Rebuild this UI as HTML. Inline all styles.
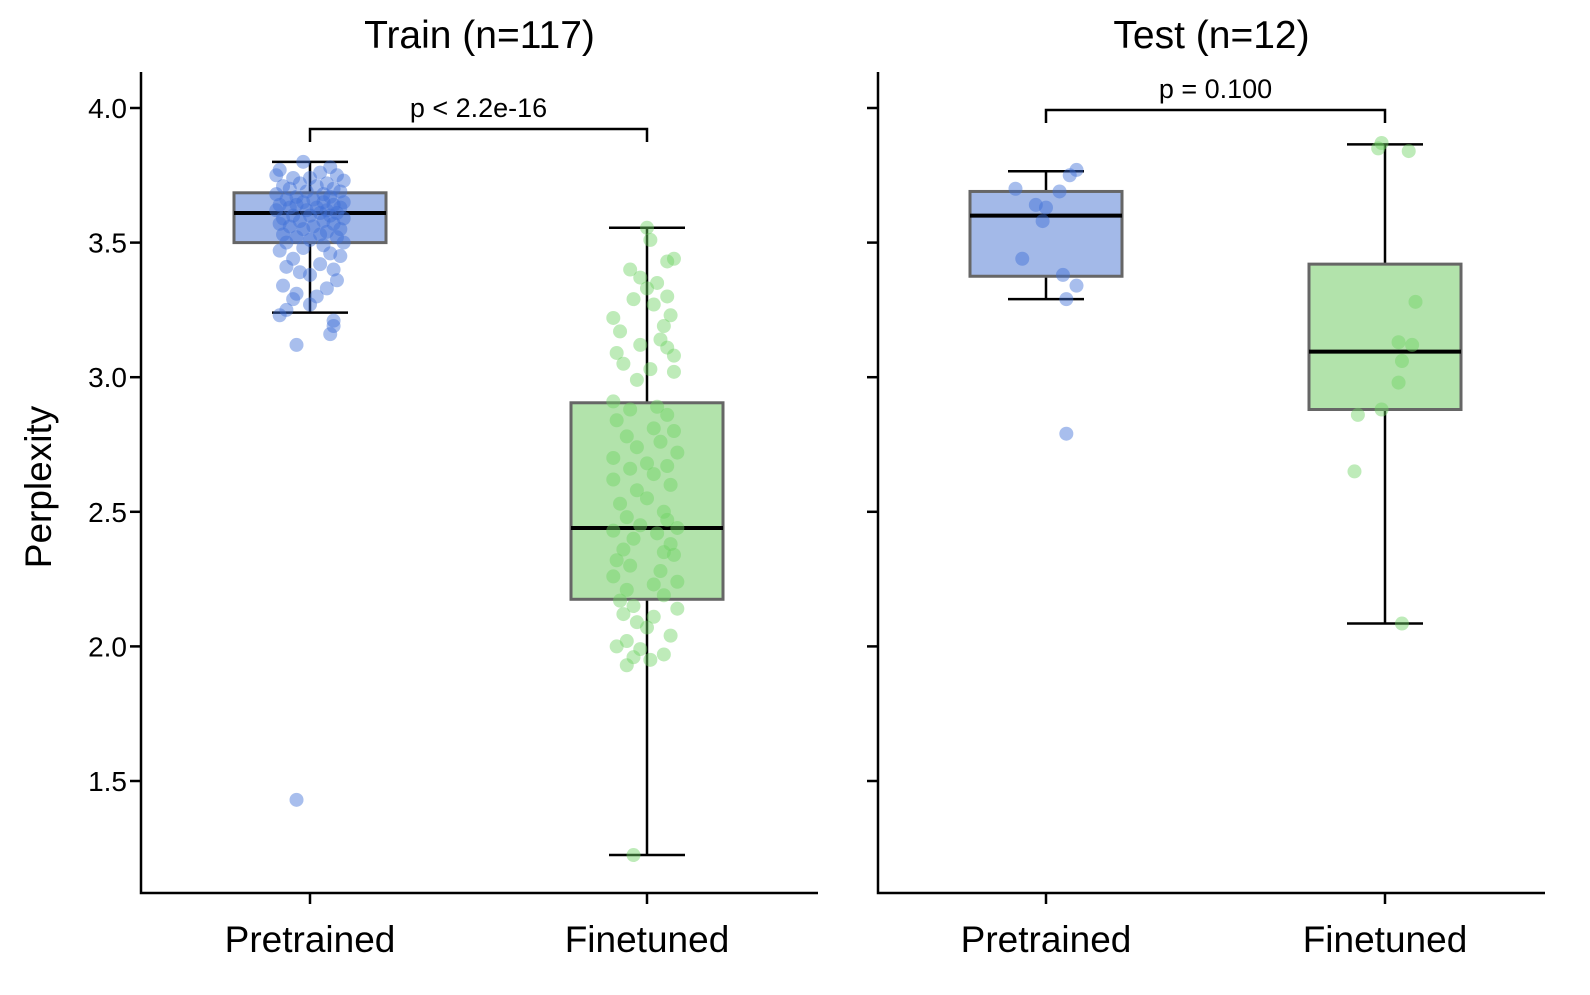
<!DOCTYPE html>
<html><head><meta charset="utf-8"><style>
html,body{margin:0;padding:0;background:#fff;}
svg text{font-family:"Liberation Sans",Arial,sans-serif;fill:#000;}
</style></head><body>
<svg id="chart" width="1590" height="990" viewBox="0 0 1590 990" xmlns="http://www.w3.org/2000/svg">
<g id="plot"></g>
</svg>
<script>
// ---- data ----
const panelTitles = ["Train (n=117)", "Test (n=12)"];
const categories = ["Pretrained", "Finetuned"];
const yTicks = [1.5, 2.0, 2.5, 3.0, 3.5, 4.0];
const yTickLabels = ["1.5", "2.0", "2.5", "3.0", "3.5", "4.0"];
const pLabels = ["p < 2.2e-16", "p = 0.100"];
// box stats [whiskerLow, q1, median, q3, whiskerHigh]
const trainPreStats = [3.24, 3.50, 3.61, 3.685, 3.80];
const trainFineStats = [1.225, 2.175, 2.44, 2.905, 3.555];
const testPreStats = [3.29, 3.375, 3.60, 3.69, 3.765];
const testFineStats = [2.085, 2.88, 3.095, 3.42, 3.865];
// points: values and jitter (fraction of category spacing)
const trainPreVals = [3.80,3.78,3.77,3.76,3.75,3.75,3.74,3.74,3.73,3.72,3.72,3.71,3.71,3.70,3.70,3.69,3.69,3.68,3.68,3.67,3.67,3.66,3.66,3.65,3.65,3.65,3.64,3.64,3.64,3.63,3.63,3.63,3.62,3.62,3.62,3.61,3.61,3.60,3.60,3.60,3.59,3.59,3.58,3.58,3.57,3.57,3.56,3.56,3.55,3.55,3.54,3.53,3.53,3.52,3.52,3.51,3.50,3.50,3.49,3.48,3.47,3.46,3.45,3.44,3.42,3.41,3.40,3.39,3.38,3.36,3.34,3.33,3.31,3.30,3.29,3.27,3.25,3.23,3.21,3.19,3.16,3.12,1.43];
const trainPreJit = [-0.02,0.06,-0.09,0.03,-0.1,0.08,0.0,-0.05,0.1,-0.03,0.05,-0.08,0.02,0.07,-0.06,-0.01,0.09,-0.1,0.04,-0.04,0.06,0.01,-0.07,0.1,-0.02,0.04,-0.09,0.07,-0.04,0.02,0.09,-0.06,0.05,-0.01,-0.1,0.08,0.03,-0.05,0.0,0.06,-0.08,0.1,-0.03,0.04,-0.09,0.07,0.01,-0.06,0.09,-0.02,0.05,-0.08,0.03,-0.04,0.08,0.0,-0.07,0.1,0.04,-0.02,-0.09,0.06,0.09,-0.05,0.03,-0.07,0.07,-0.03,0.0,0.08,-0.08,0.05,-0.04,0.02,-0.05,0.0,-0.07,-0.09,0.07,0.07,0.06,-0.04,-0.04];
const trainFineVals = [3.555,3.51,3.44,3.43,3.40,3.37,3.35,3.33,3.30,3.29,3.27,3.23,3.22,3.19,3.17,3.14,3.12,3.11,3.09,3.08,3.05,3.03,3.02,2.99,2.91,2.89,2.88,2.86,2.84,2.81,2.80,2.78,2.76,2.74,2.72,2.70,2.68,2.67,2.66,2.64,2.62,2.60,2.58,2.55,2.53,2.50,2.48,2.47,2.45,2.44,2.43,2.42,2.40,2.38,2.36,2.35,2.34,2.32,2.30,2.28,2.26,2.24,2.23,2.21,2.19,2.17,2.15,2.14,2.12,2.11,2.09,2.07,2.04,2.02,2.00,1.99,1.97,1.96,1.95,1.93,1.225];
const trainFineJit = [0.0,0.01,0.08,0.06,-0.05,-0.02,0.03,0.0,0.06,-0.04,0.02,0.07,-0.1,0.05,-0.08,0.04,-0.02,0.06,-0.09,0.08,-0.07,0.01,0.08,-0.03,-0.1,0.03,-0.05,0.06,-0.09,0.02,0.08,-0.06,0.04,-0.03,0.09,-0.1,0.0,0.06,-0.05,0.02,-0.1,0.07,-0.03,0.0,-0.08,0.05,-0.06,0.06,-0.02,0.09,-0.1,0.03,-0.04,0.07,-0.07,0.05,0.08,-0.09,-0.05,0.04,-0.1,0.09,0.02,-0.06,0.05,-0.08,-0.04,0.09,-0.07,0.02,-0.03,0.0,0.07,-0.06,-0.09,-0.02,0.05,-0.04,0.01,-0.06,-0.04];
const testPreVals = [3.70,3.64,3.63,3.58,3.69,3.75,3.77,3.44,3.38,3.34,3.29,2.79];
const testPreJit = [-0.09,-0.03,0.0,-0.01,0.04,0.07,0.09,-0.07,0.05,0.09,0.06,0.06];
const testFineVals = [3.85,3.87,3.84,3.28,3.13,3.12,3.06,2.98,2.88,2.86,2.65,2.085];
const testFineJit = [-0.02,-0.01,0.07,0.09,0.04,0.08,0.05,0.04,-0.01,-0.08,-0.09,0.05];

// ---- layout ----
const NS = "http://www.w3.org/2000/svg";
const g = document.getElementById("plot");
const panels = [
  {x0:141, x1:818, cx:[310,647], stats:[trainPreStats,trainFineStats], vals:[trainPreVals,trainFineVals], jit:[trainPreJit,trainFineJit], labels:true, by:129, name:"train"},
  {x0:878, x1:1545, cx:[1046,1385], stats:[testPreStats,testFineStats], vals:[testPreVals,testFineVals], jit:[testPreJit,testFineJit], labels:false, by:110, name:"test"}
];
const yTop = 72, yBot = 893;
function yScale(v){ return 108 + (4.0 - v) * 269.2; }
const boxFill = ["#a3b9e8","#b2e3ab"];
const ptFill = ["#3d6fd6","#6fd364"];
function el(tag, attrs, parent){ const e=document.createElementNS(NS,tag); for(const k in attrs) e.setAttribute(k,attrs[k]); (parent||g).appendChild(e); return e; }

panels.forEach((p, pi) => {
  const pg = el("g", {});
  
  
  const t = el("text", {x:(p.x0+p.x1)/2, y:48, "text-anchor":"middle", "font-size":"39"}, pg);
  t.textContent = panelTitles[pi];
  
  
  const ax = el("path", {d:`M${p.x0},${yTop} L${p.x0},${yBot} L${p.x1},${yBot}`, stroke:"#000", "stroke-width":"2.5", fill:"none"}, pg);
  
  
  yTicks.forEach((v, i) => {
    const yy = yScale(v);
    const tk = el("line", {x1:p.x0-11, x2:p.x0, y1:yy, y2:yy, stroke:"#000", "stroke-width":"2.5"}, pg);
    
    
    if (p.labels) {
      const tl = el("text", {x:p.x0-14, y:yy+10, "text-anchor":"end", "font-size":"28"}, pg);
      tl.textContent = yTickLabels[i];
      
      
    }
  });
  categories.forEach((c, ci) => {
    const cx = p.cx[ci];
    const tk = el("line", {x1:cx, x2:cx, y1:yBot, y2:yBot+11, stroke:"#000", "stroke-width":"2.5"}, pg);
    
    
    const cl = el("text", {x:cx, y:952, "text-anchor":"middle", "font-size":"37"}, pg);
    cl.textContent = c;
    
    
    const s = p.stats[ci];
    const bw = 152, cap = 76;
    const wl = el("path", {d:`M${cx},${yScale(s[0])} L${cx},${yScale(s[1])} M${cx},${yScale(s[3])} L${cx},${yScale(s[4])} M${cx-cap/2},${yScale(s[0])} L${cx+cap/2},${yScale(s[0])} M${cx-cap/2},${yScale(s[4])} L${cx+cap/2},${yScale(s[4])}`, stroke:"#000", "stroke-width":"2.5", fill:"none"}, pg);
    
    
    const bx = el("rect", {x:cx-bw/2, y:yScale(s[3]), width:bw, height:yScale(s[1])-yScale(s[3]), fill:boxFill[ci], stroke:"#666", "stroke-width":"3"}, pg);
    
    
    const md = el("line", {x1:cx-bw/2, x2:cx+bw/2, y1:yScale(s[2]), y2:yScale(s[2]), stroke:"#000", "stroke-width":"4"}, pg);
    
    
    const vals = p.vals[ci], jit = p.jit[ci];
    vals.forEach((v, k) => {
      const pt = el("circle", {cx:cx + jit[k]*(p.cx[1]-p.cx[0]), cy:yScale(v), r:7, fill:ptFill[ci], "fill-opacity":"0.45"}, pg);
      
      
    });
  });
  const by = p.by;
  const br = el("path", {d:`M${p.cx[0]},${by+13} L${p.cx[0]},${by} L${p.cx[1]},${by} L${p.cx[1]},${by+13}`, stroke:"#000", "stroke-width":"2.5", fill:"none"}, pg);
  
  
  const pl = el("text", {x:(p.cx[0]+p.cx[1])/2, y:by-12, "text-anchor":"middle", "font-size":"27"}, pg);
  pl.textContent = pLabels[pi];
  
  
});
const yl = el("text", {x:0, y:0, "text-anchor":"middle", "font-size":"37", transform:"translate(51,487) rotate(-90)"});
yl.textContent = "Perplexity";


</script>
</body></html>
